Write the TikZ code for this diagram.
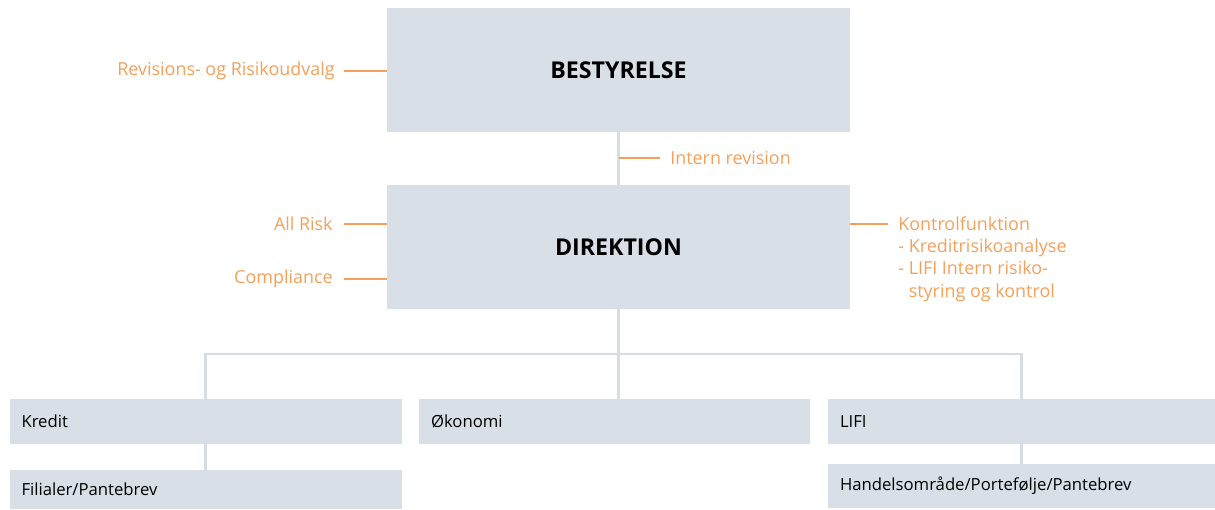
\documentclass[tikz,border=0pt]{standalone}
\usepackage{fontspec}
\setmainfont{Open Sans}
\definecolor{boxgray}{HTML}{D8DFE6}
\definecolor{linegray}{HTML}{D6DDE5}
\definecolor{orng}{HTML}{F5A059}
\begin{document}
\begin{tikzpicture}[every node/.style={font=\fontsize{9.5}{12.7}\selectfont},
  top/.style={fill=boxgray, minimum width=9.26cm, minimum height=2.48cm, font=\fontsize{13.2}{15}\selectfont\bfseries},
  unit/.style={fill=boxgray, text width=7.37cm, inner xsep=0.24cm, inner ysep=0pt, minimum height=0.9cm, align=left},
  lab/.style={text=orng, inner sep=0pt, font=\fontsize{10.2}{12.7}\selectfont},
  tie/.style={orng, line width=1.2pt},
  trunk/.style={linegray, line width=1.6pt}]
  \useasboundingbox (0,0) rectangle (24.3,10.2);
  % board and management
  \node[top] (bst) at (12.37,8.8) {BESTYRELSE};
  \node[top] (dir) at (12.37,5.26) {DIREKTION};
  % departments
  \node[unit] (kre) at (4.115,1.77) {Kredit};
  \node[unit, minimum height=0.78cm] (fil) at (4.115,0.41) {Filialer/Pantebrev};
  \node[unit, text width=7.34cm] (oko) at (12.29,1.77) {Økonomi};
  \node[unit, text width=7.26cm] (lif) at (20.43,1.77) {LIFI};
  \node[unit, text width=7.26cm, minimum height=0.88cm] (han) at (20.43,0.48) {Handelsområde/Portefølje/Pantebrev};
  \coordinate (bar) at (12.37,3.12);
  \draw[trunk] (bst) -- (dir);
  \draw[trunk] (dir.south) -- (dir.south |- oko.north);
  \draw[trunk] (kre.north) -- (kre.north |- bar) -- (lif.north |- bar) -- (lif.north);
  \draw[trunk] (kre) -- (fil);
  \draw[trunk] (lif) -- (han);
  % staff functions
  \node[lab, anchor=east] (rev) at (6.7,8.78) {Revisions- og Risikoudvalg};
  \node[lab, anchor=west] (irv) at (13.4,7.04) {Intern revision};
  \node[lab, anchor=east] (all) at (6.66,5.72) {All Risk};
  \node[lab, anchor=east] (com) at (6.66,4.62) {Compliance};
  \node[lab, anchor=north west, align=left] (kon) at (17.96,5.88) {Kontrolfunktion\\- Kreditrisikoanalyse\\- LIFI Intern risiko-\\\phantom{- }styring og kontrol};
  \coordinate (konx) at (17.76,5.72);
  \draw[tie] ([xshift=0.18cm]rev.east) -- (bst.west |- rev.east);
  \draw[tie] (bst.south |- irv.west) -- ([xshift=-0.2cm]irv.west);
  \draw[tie] ([xshift=0.22cm]all.east) -- (dir.west |- all.east);
  \draw[tie] ([xshift=0.22cm]com.east) -- (dir.west |- com.east);
  \draw[tie] (dir.east |- konx) -- (konx);
\end{tikzpicture}
\end{document}
